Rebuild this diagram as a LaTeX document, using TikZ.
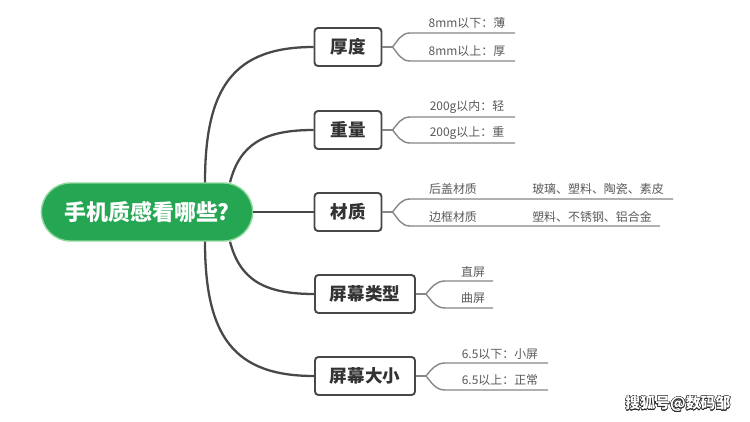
\documentclass[tikz,border=0pt]{standalone}
\usepackage{fontspec}
\setmainfont{Noto Sans CJK SC}
\usepackage{contour}
\usetikzlibrary{positioning, calc, shapes.misc}
\definecolor{cRoot}{RGB}{36,166,82}
\definecolor{cRootRim}{RGB}{140,215,155}
\definecolor{cBranch}{RGB}{72,72,72}
\definecolor{cTwig}{RGB}{135,135,135}
\definecolor{cLeafText}{RGB}{90,90,90}
\tikzset{
	rootnode/.style ={rounded rectangle, fill=cRoot, draw=cRootRim, line width=0.8pt, minimum width=4.46cm, minimum height=1.16cm, text=white, font=\fontsize{12.5}{14}\selectfont\bfseries},
	topic/.style    ={rectangle, rounded corners=2pt, draw=cBranch, line width=1.1pt, fill=white, minimum height=0.76cm, text=black!80, font=\fontsize{10}{12}\selectfont\bfseries},
	leaf/.style     ={text=cLeafText, inner sep=1pt, font=\fontsize{6.8}{8}\selectfont},
	branch/.style   ={draw=cBranch, line width=1.3pt},
	twig/.style     ={draw=cTwig, line width=0.8pt},
}
\begin{document}
\begin{tikzpicture}[x=0.02cm, y=-0.02cm]
	\path[use as bounding box, fill=white] (0,0) rectangle (750,422);
	% main nodes
	\node[rootnode] (root) at (147,212) {手机质感看哪些?};
	\node[topic, minimum width=1.34cm] (thick) at (348,47) {厚度};
	\node[topic, minimum width=1.34cm] (weight) at (348,130) {重量};
	\node[topic, minimum width=1.34cm] (mat) at (348,212) {材质};
	\node[topic, minimum width=2cm] (stype) at (365,294) {屏幕类型};
	\node[topic, minimum width=2cm] (ssize) at (365,376) {屏幕大小};
	% branches from the root
	\draw[branch] ($(root.north)+(58,0)$) .. controls +(0,-95) and +(-80,0) .. (thick.west);
	\draw[branch] ($(root.north)+(83,0)$) .. controls +(10,-38) and +(-50,0) .. (weight.west);
	\draw[branch] (root.east) -- (mat.west);
	\draw[branch] ($(root.south)+(83,0)$) .. controls +(10,38) and +(-50,0) .. (stype.west);
	\draw[branch] ($(root.south)+(58,0)$) .. controls +(0,95) and +(-80,0) .. (ssize.west);
	% leaf texts
	\node[leaf] (t1) at (467,23) {8mm以下：薄};
	\node[leaf] (t2) at (467,51) {8mm以上：厚};
	\node[leaf] (w1) at (467,107) {200g以内：轻};
	\node[leaf] (w2) at (467,133) {200g以上：重};
	\node[leaf] (m1) at (453,189) {后盖材质};
	\node[leaf] (m1v) at (598,189) {玻璃、塑料、陶瓷、素皮};
	\node[leaf] (m2) at (453,217) {边框材质};
	\node[leaf] (m2v) at (592,217) {塑料、不锈钢、铝合金};
	\node[leaf] (s1) at (473,272) {直屏};
	\node[leaf] (s2) at (473,298) {曲屏};
	\node[leaf] (z1) at (500,354) {6.5以下：小屏};
	\node[leaf] (z2) at (500,380) {6.5以上：正常};
	% line ends under the leaves
	\coordinate (t1s) at (410,33);  \coordinate (t1e) at (515,33);
	\coordinate (t2s) at (410,61);  \coordinate (t2e) at (515,61);
	\coordinate (w1s) at (410,117); \coordinate (w1e) at (515,117);
	\coordinate (w2s) at (410,143); \coordinate (w2e) at (515,143);
	\coordinate (m1s) at (410,199); \coordinate (m1e) at (673,199);
	\coordinate (m2s) at (410,226); \coordinate (m2e) at (660,226);
	\coordinate (s1s) at (445,281); \coordinate (s1e) at (493,281);
	\coordinate (s2s) at (445,308); \coordinate (s2e) at (493,308);
	\coordinate (z1s) at (445,363); \coordinate (z1e) at (548,363);
	\coordinate (z2s) at (445,390); \coordinate (z2e) at (548,390);
	% forks
	\foreach \n/\a/\b in {thick/t1/t2, weight/w1/w2, mat/m1/m2, stype/s1/s2, ssize/z1/z2}{
		\draw[twig] (\n.east) -- ++(10,0) coordinate (\n-f);
		\draw[twig] (\n-f) to[out=50, in=180] (\a s) -- (\a e);
		\draw[twig] (\n-f) to[out=-50, in=180] (\b s) -- (\b e);
	}
	% watermark
	\node[font=\fontsize{8.5}{10}\selectfont\bfseries] (mark) at (678,404) {\contour{black!85}{\textcolor{white}{搜狐号@数码邹}}};
\end{tikzpicture}
\end{document}
